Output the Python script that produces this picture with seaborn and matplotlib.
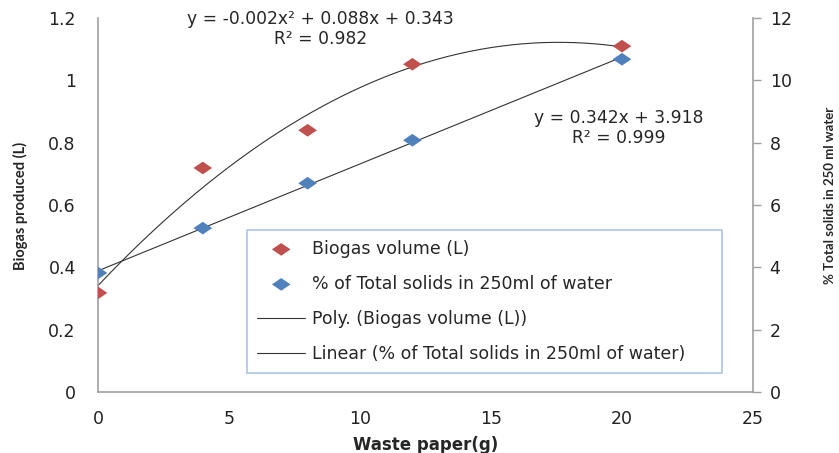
import numpy as np
import pandas as pd
import seaborn as sns
from matplotlib import pyplot as plt

# Veriler
waste_paper = [0, 4, 8, 12, 20]
biogas_volume = [0.318, 0.719, 0.840, 1.052, 1.110]
total_solids = [3.82, 5.26, 6.70, 8.08, 10.68]

x_ticks = [0, 5, 10, 15, 20, 25]
left_ticks = [0, 0.2, 0.4, 0.6, 0.8, 1, 1.2]
left_labels = ["0", "0.2", "0.4", "0.6", "0.8", "1", "1.2"]
right_ticks = [0, 2, 4, 6, 8, 10, 12]

poly_eq = "y = -0.002x² + 0.088x + 0.343\nR² = 0.982"
lin_eq = "y = 0.342x + 3.918\nR² = 0.999"

red = "#c0504d"
blue = "#4f81bd"
axis_grey = "#a0a0a0"
narrow = ["Lato", "DejaVu Sans"]
# Excel'deki gibi yatayda geniş baklava işareti
diamond = [(-1, 0), (0, 0.68), (1, 0), (0, -0.68), (-1, 0)]

sns.set_style("white")
plt.rcParams["font.family"] = ["DejaVu Sans"]

df = pd.DataFrame({"x": waste_paper, "biogas": biogas_volume, "solids": total_solids})

# Trend çizgileri
xs = np.linspace(min(waste_paper), max(waste_paper), 200)
poly = np.polyfit(df["x"], df["biogas"], 2)
lin = np.polyfit(df["x"], df["solids"], 1)
trend = pd.DataFrame({"x": xs, "poly": np.polyval(poly, xs), "lin": np.polyval(lin, xs)})

fig = plt.figure(figsize=(8.39, 4.53), dpi=100)
ax = fig.add_axes([0.1168, 0.1347, 0.7807, 0.8253])
ax2 = ax.twinx()

sns.lineplot(data=trend, x="x", y="poly", ax=ax, color="#333333", lw=0.8, label="Poly. (Biogas volume (L))", legend=False)
sns.lineplot(data=trend, x="x", y="lin", ax=ax2, color="#333333", lw=0.8, label="Linear (% of Total solids in 250ml of water)", legend=False)
sns.scatterplot(data=df, x="x", y="biogas", ax=ax, marker=diamond, s=180, color=red, edgecolor="none", label="Biogas volume (L)", legend=False, zorder=3)
sns.scatterplot(data=df, x="x", y="solids", ax=ax2, marker=diamond, s=180, color=blue, edgecolor="none", label="% of Total solids in 250ml of water", legend=False, zorder=3)

ax.set_xlim(0, 25)
ax.set_ylim(0, 1.2)
ax2.set_ylim(0, 12)
ax.set_xticks(x_ticks)
ax.set_yticks(left_ticks)
ax.set_yticklabels(left_labels)
ax2.set_yticks(right_ticks)

for a in (ax, ax2):
    for s in a.spines.values():
        s.set_color(axis_grey)
        s.set_linewidth(1.2)
    a.spines["top"].set_visible(False)
ax.spines["right"].set_visible(False)
ax2.spines["left"].set_visible(False)
ax2.spines["bottom"].set_visible(False)

ax.tick_params(axis="both", length=0, labelsize=12.5, colors="#222222")
ax.tick_params(axis="x", pad=13)
ax.tick_params(axis="y", pad=16)
ax2.tick_params(axis="y", length=6, width=1, color=axis_grey, direction="out", labelsize=12.5, labelcolor="#222222", pad=6)

ax.set_xlabel("Waste paper(g)", fontsize=12, fontweight="bold", labelpad=6)
ax.set_ylabel("Biogas produced (L)", fontweight="bold", family=narrow, fontsize=10.5)
ax2.set_ylabel("% Total solids in 250 ml water", fontweight="bold", family=narrow, fontsize=9.5)
ax.yaxis.set_label_coords(-0.107, 0.497)
ax2.yaxis.set_label_coords(1.109, 0.527)

ax.text(0.34, 0.972, poly_eq, transform=ax.transAxes, ha="center", va="center", fontsize=12.3, linespacing=1.15)
ax.text(0.795, 0.707, lin_eq, transform=ax.transAxes, ha="center", va="center", fontsize=12.3, linespacing=1.15)

h1, l1 = ax.get_legend_handles_labels()
h2, l2 = ax2.get_legend_handles_labels()
handles = dict(zip(l1 + l2, h1 + h2))
order = ["Biogas volume (L)", "% of Total solids in 250ml of water",
         "Poly. (Biogas volume (L))", "Linear (% of Total solids in 250ml of water)"]
leg = ax2.legend([handles[k] for k in order], order, loc="lower left",
                 bbox_to_anchor=(0.228, 0.052, 0.724, 0.375), mode="expand",
                 borderaxespad=0, fontsize=12.5, frameon=True, fancybox=False,
                 labelspacing=0.98, handlelength=2.8, handletextpad=0.35, borderpad=0.55)
leg.get_frame().set_edgecolor("#9bb7e0")
leg.get_frame().set_linewidth(1.2)

fig.savefig("out.png", dpi=100)
